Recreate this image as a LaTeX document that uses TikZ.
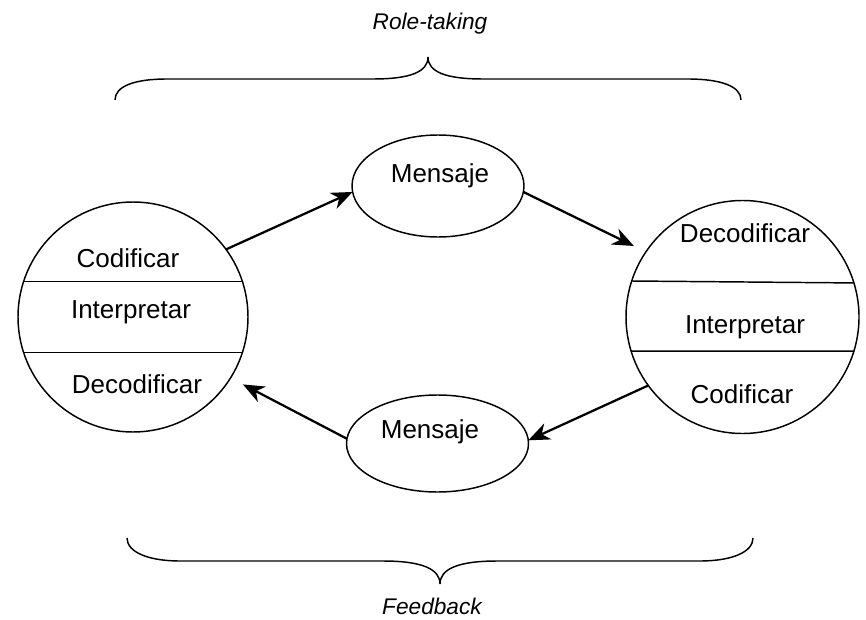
\documentclass[tikz,border=0pt]{standalone}
\usepackage{fontspec}
\setmainfont{Liberation Sans}
\usetikzlibrary{arrows.meta,shapes.geometric}

\tikzset{
    party/.style={draw,circle,line width=1.1pt,inner sep=0pt,outer sep=0pt},
    msgbox/.style={draw,ellipse,line width=1.1pt,inner sep=0pt,outer sep=0pt},
    txt/.style={anchor=base,inner sep=0pt,font=\fontsize{19.5}{23}\selectfont},
    title/.style={anchor=base,inner sep=0pt,font=\fontsize{17}{20}\selectfont\itshape},
    arr/.style={-{Stealth[length=16pt,width=13pt,inset=5pt]},line width=1.7pt},
    brace/.style={line width=1.1pt}
}

\begin{document}
\begin{tikzpicture}[x=0.75pt,y=-0.75pt]
        \useasboundingbox (0,0) rectangle (866,620);

        % the two parties
        \node[party,minimum size=172.5pt] (Sender) at (133,317) {};
        \node[party,minimum size=174.75pt] (Receiver) at (742.5,317) {};

        \draw[line width=1.1pt] (Sender.162) -- (Sender.18)
        (Sender.198) -- (Sender.-18);
        \draw[line width=1.1pt] (Receiver.162.5) -- (Receiver.17.5)
        (Receiver.197.5) -- (Receiver.-17.5);

        \node[txt] (SenderCod) at (128,267) {Codificar};
        \node[txt] (SenderInt) at (131,318) {Interpretar};
        \node[txt] (SenderDec) at (137,393) {Decodificar};

        \node[txt] (ReceiverDec) at (745,243) {Decodificar};
        \node[txt] (ReceiverInt) at (745,333) {Interpretar};
        \node[txt] (ReceiverCod) at (742,403) {Codificar};

        % messages
        \node[msgbox,minimum width=129pt,minimum height=76.5pt] (MsgTop) at (438,186) {};
        \node[txt] (MsgTopText) at (440,183) {Mensaje};
        \node[msgbox,minimum width=136.5pt,minimum height=72.75pt] (MsgBottom) at (437.5,443.5) {};
        \node[txt] (MsgBottomText) at (430,438) {Mensaje};

        \foreach \from/\to/\gap in {Sender.36/MsgTop.184/0pt,MsgTop.-4/Receiver.146/10pt,
            Receiver.216/MsgBottom.2/0pt,MsgBottom.177/Sender.328/10.5pt}
        {
            \draw[arr,shorten >=\gap] (\from) -- (\to);
        }

        % braces
        \draw[brace] (115,100) .. controls (115,86) and (135,79) .. (167,79) -- (373,79)
        .. controls (410,79) and (428,72) .. (428,57)
        .. controls (428,72) and (446,79) .. (483,79) -- (688,79)
        .. controls (720,79) and (741,86) .. (741,100);
        \draw[brace] (127,538) .. controls (127,552) and (148,561) .. (180,561) -- (383,561)
        .. controls (422,561) and (440,569) .. (440,584)
        .. controls (440,569) and (458,561) .. (497,561) -- (700,561)
        .. controls (732,561) and (753,552) .. (753,538);

        \node[title] (RoleTaking) at (430,30) {Role-taking};
        \node[title] (Feedback) at (432,614) {Feedback};
\end{tikzpicture}
\end{document}
